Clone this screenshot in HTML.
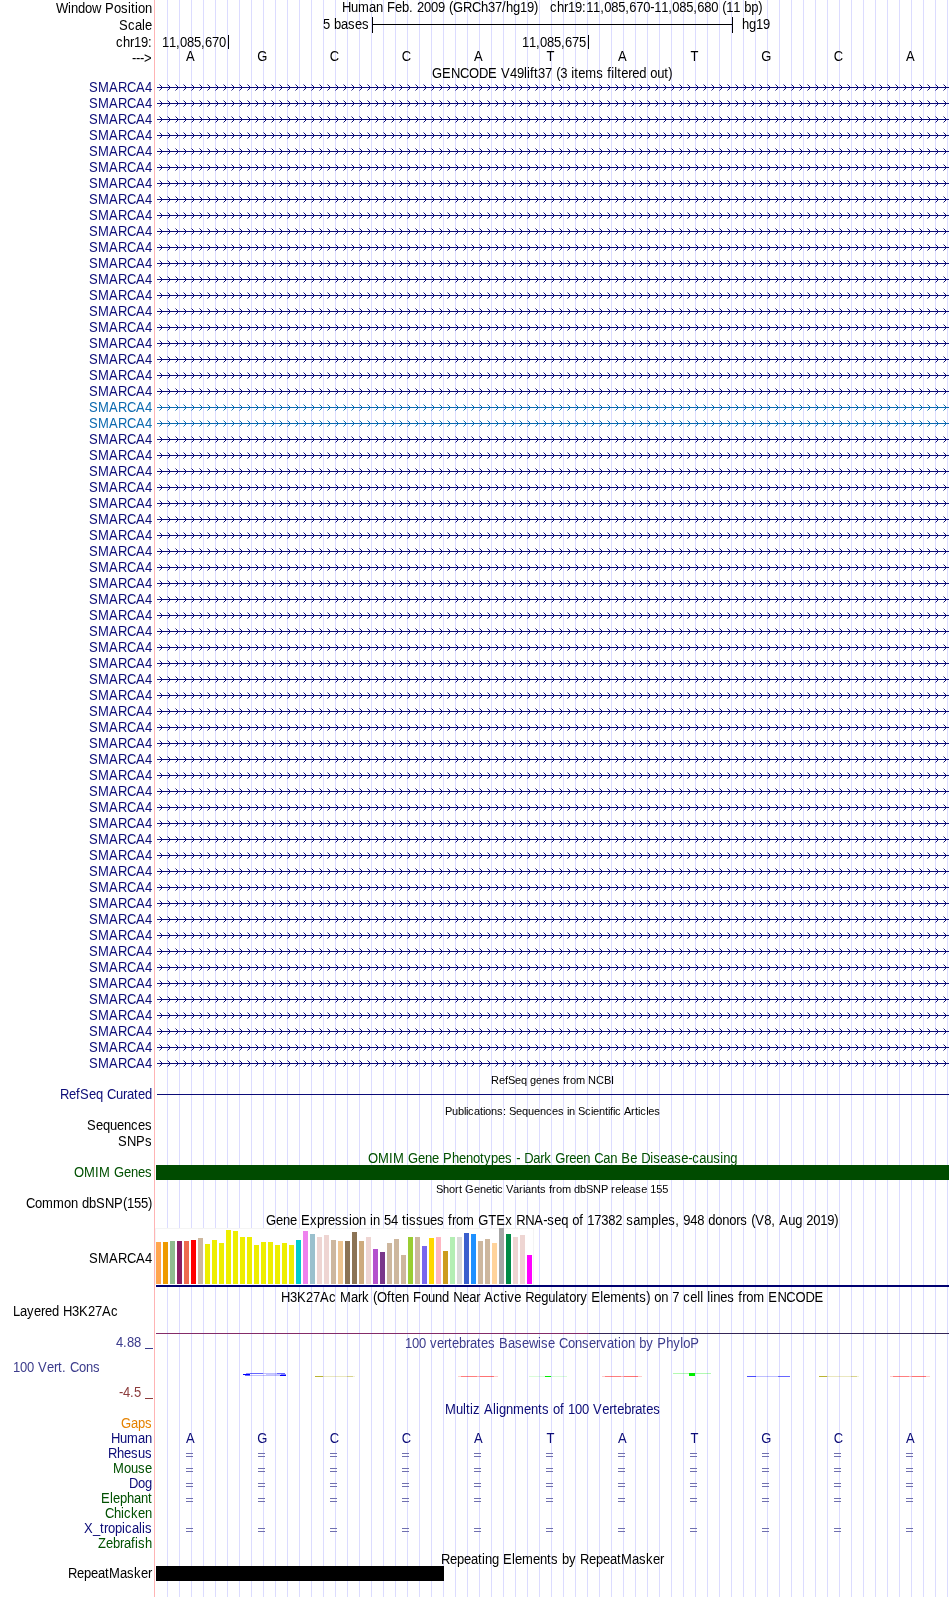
<!DOCTYPE html><html><head><meta charset="utf-8"><title>UCSC Genome Browser</title>
<style>
html,body{margin:0;padding:0;background:#fff;}
body{width:950px;height:1597px;position:relative;overflow:hidden;will-change:transform;-webkit-font-smoothing:antialiased;font-family:"Liberation Sans",sans-serif;font-size:13px;color:#000;}
.t{position:absolute;white-space:pre;font-kerning:none;font-variant-ligatures:none;line-height:16px;height:16px;transform:scaleY(1.08);transform-origin:0 12px;}
.s{font-size:11px;transform:none;}
.b{position:absolute;}
i{font-style:normal;}
.k0{letter-spacing:-0.27px}.k1{letter-spacing:0.11px}.k2{letter-spacing:-0.23px}.k3{letter-spacing:-0.39px}.k4{letter-spacing:0.39px}.k5{letter-spacing:0.33px}.k6{letter-spacing:0.50px}.k7{letter-spacing:-0.33px}.k8{letter-spacing:0.41px}.k9{letter-spacing:0.17px}.k10{letter-spacing:0.06px}.k11{letter-spacing:-0.11px}.k12{letter-spacing:-0.12px}.k13{letter-spacing:-0.06px}.k14{letter-spacing:-0.34px}.k15{letter-spacing:0.34px}.k16{letter-spacing:-0.16px}.k17{letter-spacing:-0.44px}.k18{letter-spacing:0.44px}
svg{position:absolute;left:0;top:0;}
</style></head><body>
<svg width="950" height="1597" viewBox="0 0 950 1597" shape-rendering="crispEdges"><path d="M167.5 0V1597M179.5 0V1597M191.5 0V1597M203.5 0V1597M215.5 0V1597M227.5 0V1597M239.5 0V1597M251.5 0V1597M263.5 0V1597M275.5 0V1597M287.5 0V1597M299.5 0V1597M311.5 0V1597M323.5 0V1597M335.5 0V1597M347.5 0V1597M359.5 0V1597M371.5 0V1597M383.5 0V1597M395.5 0V1597M407.5 0V1597M419.5 0V1597M431.5 0V1597M443.5 0V1597M455.5 0V1597M467.5 0V1597M479.5 0V1597M491.5 0V1597M503.5 0V1597M515.5 0V1597M527.5 0V1597M539.5 0V1597M551.5 0V1597M563.5 0V1597M575.5 0V1597M587.5 0V1597M599.5 0V1597M611.5 0V1597M623.5 0V1597M635.5 0V1597M647.5 0V1597M659.5 0V1597M671.5 0V1597M683.5 0V1597M695.5 0V1597M707.5 0V1597M719.5 0V1597M731.5 0V1597M743.5 0V1597M755.5 0V1597M767.5 0V1597M779.5 0V1597M791.5 0V1597M803.5 0V1597M815.5 0V1597M827.5 0V1597M839.5 0V1597M851.5 0V1597M863.5 0V1597M875.5 0V1597M887.5 0V1597M899.5 0V1597M911.5 0V1597M923.5 0V1597M935.5 0V1597M947.5 0V1597" stroke="#DCDCFF" stroke-width="1" fill="none"/><path d="M154.5 0V1597" stroke="#FFB4B4" stroke-width="1" fill="none"/><defs><g id="row"><path d="M157 0.5H949" stroke-width="1" fill="none"/><path d="M159.5 -2.5l3 3l-3 3M167.5 -2.5l3 3l-3 3M175.5 -2.5l3 3l-3 3M183.5 -2.5l3 3l-3 3M191.5 -2.5l3 3l-3 3M199.5 -2.5l3 3l-3 3M207.5 -2.5l3 3l-3 3M215.5 -2.5l3 3l-3 3M223.5 -2.5l3 3l-3 3M231.5 -2.5l3 3l-3 3M239.5 -2.5l3 3l-3 3M247.5 -2.5l3 3l-3 3M255.5 -2.5l3 3l-3 3M263.5 -2.5l3 3l-3 3M271.5 -2.5l3 3l-3 3M279.5 -2.5l3 3l-3 3M287.5 -2.5l3 3l-3 3M295.5 -2.5l3 3l-3 3M303.5 -2.5l3 3l-3 3M311.5 -2.5l3 3l-3 3M319.5 -2.5l3 3l-3 3M327.5 -2.5l3 3l-3 3M335.5 -2.5l3 3l-3 3M343.5 -2.5l3 3l-3 3M351.5 -2.5l3 3l-3 3M359.5 -2.5l3 3l-3 3M367.5 -2.5l3 3l-3 3M375.5 -2.5l3 3l-3 3M383.5 -2.5l3 3l-3 3M391.5 -2.5l3 3l-3 3M399.5 -2.5l3 3l-3 3M407.5 -2.5l3 3l-3 3M415.5 -2.5l3 3l-3 3M423.5 -2.5l3 3l-3 3M431.5 -2.5l3 3l-3 3M439.5 -2.5l3 3l-3 3M447.5 -2.5l3 3l-3 3M455.5 -2.5l3 3l-3 3M463.5 -2.5l3 3l-3 3M471.5 -2.5l3 3l-3 3M479.5 -2.5l3 3l-3 3M487.5 -2.5l3 3l-3 3M495.5 -2.5l3 3l-3 3M503.5 -2.5l3 3l-3 3M511.5 -2.5l3 3l-3 3M519.5 -2.5l3 3l-3 3M527.5 -2.5l3 3l-3 3M535.5 -2.5l3 3l-3 3M543.5 -2.5l3 3l-3 3M551.5 -2.5l3 3l-3 3M559.5 -2.5l3 3l-3 3M567.5 -2.5l3 3l-3 3M575.5 -2.5l3 3l-3 3M583.5 -2.5l3 3l-3 3M591.5 -2.5l3 3l-3 3M599.5 -2.5l3 3l-3 3M607.5 -2.5l3 3l-3 3M615.5 -2.5l3 3l-3 3M623.5 -2.5l3 3l-3 3M631.5 -2.5l3 3l-3 3M639.5 -2.5l3 3l-3 3M647.5 -2.5l3 3l-3 3M655.5 -2.5l3 3l-3 3M663.5 -2.5l3 3l-3 3M671.5 -2.5l3 3l-3 3M679.5 -2.5l3 3l-3 3M687.5 -2.5l3 3l-3 3M695.5 -2.5l3 3l-3 3M703.5 -2.5l3 3l-3 3M711.5 -2.5l3 3l-3 3M719.5 -2.5l3 3l-3 3M727.5 -2.5l3 3l-3 3M735.5 -2.5l3 3l-3 3M743.5 -2.5l3 3l-3 3M751.5 -2.5l3 3l-3 3M759.5 -2.5l3 3l-3 3M767.5 -2.5l3 3l-3 3M775.5 -2.5l3 3l-3 3M783.5 -2.5l3 3l-3 3M791.5 -2.5l3 3l-3 3M799.5 -2.5l3 3l-3 3M807.5 -2.5l3 3l-3 3M815.5 -2.5l3 3l-3 3M823.5 -2.5l3 3l-3 3M831.5 -2.5l3 3l-3 3M839.5 -2.5l3 3l-3 3M847.5 -2.5l3 3l-3 3M855.5 -2.5l3 3l-3 3M863.5 -2.5l3 3l-3 3M871.5 -2.5l3 3l-3 3M879.5 -2.5l3 3l-3 3M887.5 -2.5l3 3l-3 3M895.5 -2.5l3 3l-3 3M903.5 -2.5l3 3l-3 3M911.5 -2.5l3 3l-3 3M919.5 -2.5l3 3l-3 3M927.5 -2.5l3 3l-3 3M935.5 -2.5l3 3l-3 3M943.5 -2.5l3 3l-3 3" stroke-width="1" fill="none" shape-rendering="geometricPrecision"/></g></defs><use href="#row" y="87" stroke="#0C0C78"/><use href="#row" y="103" stroke="#0C0C78"/><use href="#row" y="119" stroke="#0C0C78"/><use href="#row" y="135" stroke="#0C0C78"/><use href="#row" y="151" stroke="#0C0C78"/><use href="#row" y="167" stroke="#0C0C78"/><use href="#row" y="183" stroke="#0C0C78"/><use href="#row" y="199" stroke="#0C0C78"/><use href="#row" y="215" stroke="#0C0C78"/><use href="#row" y="231" stroke="#0C0C78"/><use href="#row" y="247" stroke="#0C0C78"/><use href="#row" y="263" stroke="#0C0C78"/><use href="#row" y="279" stroke="#0C0C78"/><use href="#row" y="295" stroke="#0C0C78"/><use href="#row" y="311" stroke="#0C0C78"/><use href="#row" y="327" stroke="#0C0C78"/><use href="#row" y="343" stroke="#0C0C78"/><use href="#row" y="359" stroke="#0C0C78"/><use href="#row" y="375" stroke="#0C0C78"/><use href="#row" y="391" stroke="#0C0C78"/><use href="#row" y="407" stroke="#0C69B0"/><use href="#row" y="423" stroke="#0C69B0"/><use href="#row" y="439" stroke="#0C0C78"/><use href="#row" y="455" stroke="#0C0C78"/><use href="#row" y="471" stroke="#0C0C78"/><use href="#row" y="487" stroke="#0C0C78"/><use href="#row" y="503" stroke="#0C0C78"/><use href="#row" y="519" stroke="#0C0C78"/><use href="#row" y="535" stroke="#0C0C78"/><use href="#row" y="551" stroke="#0C0C78"/><use href="#row" y="567" stroke="#0C0C78"/><use href="#row" y="583" stroke="#0C0C78"/><use href="#row" y="599" stroke="#0C0C78"/><use href="#row" y="615" stroke="#0C0C78"/><use href="#row" y="631" stroke="#0C0C78"/><use href="#row" y="647" stroke="#0C0C78"/><use href="#row" y="663" stroke="#0C0C78"/><use href="#row" y="679" stroke="#0C0C78"/><use href="#row" y="695" stroke="#0C0C78"/><use href="#row" y="711" stroke="#0C0C78"/><use href="#row" y="727" stroke="#0C0C78"/><use href="#row" y="743" stroke="#0C0C78"/><use href="#row" y="759" stroke="#0C0C78"/><use href="#row" y="775" stroke="#0C0C78"/><use href="#row" y="791" stroke="#0C0C78"/><use href="#row" y="807" stroke="#0C0C78"/><use href="#row" y="823" stroke="#0C0C78"/><use href="#row" y="839" stroke="#0C0C78"/><use href="#row" y="855" stroke="#0C0C78"/><use href="#row" y="871" stroke="#0C0C78"/><use href="#row" y="887" stroke="#0C0C78"/><use href="#row" y="903" stroke="#0C0C78"/><use href="#row" y="919" stroke="#0C0C78"/><use href="#row" y="935" stroke="#0C0C78"/><use href="#row" y="951" stroke="#0C0C78"/><use href="#row" y="967" stroke="#0C0C78"/><use href="#row" y="983" stroke="#0C0C78"/><use href="#row" y="999" stroke="#0C0C78"/><use href="#row" y="1015" stroke="#0C0C78"/><use href="#row" y="1031" stroke="#0C0C78"/><use href="#row" y="1047" stroke="#0C0C78"/><use href="#row" y="1063" stroke="#0C0C78"/></svg>
<div class="t" style="left:56px;top:1px;"><i class=k0>W</i><i class=k1>i</i><i class=k2>ndo</i><i class=k3>w</i><i class=k4> </i><i class=k5>P</i><i class=k2>o</i><i class=k6>s</i><i class=k1>i</i><i class=k4>t</i><i class=k1>i</i><i class=k2>on</i></div>
<div class="t" style="left:119px;top:18px;"><i class=k5>S</i><i class=k6>c</i><i class=k2>a</i><i class=k1>l</i><i class=k2>e</i></div>
<div class="t" style="left:116px;top:35px;"><i class=k6>c</i><i class=k2>h</i><i class=k7>r</i><i class=k2>19</i><i class=k4>:</i></div>
<div class="t" style="left:132px;top:51px;"><i class=k7>---</i><i class=k8>&gt;</i></div>
<div class="t" style="left:342px;top:0px;"><i class=k3>H</i><i class=k2>u</i><i class=k9>m</i><i class=k2>an</i><i class=k4> </i><i class=k10>F</i><i class=k2>eb</i><i class=k4>. </i><i class=k2>2009</i><i class=k4> </i><i class=k7>(</i><i class=k11>G</i><i class=k3>RC</i><i class=k2>h37</i><i class=k4>/</i><i class=k2>hg19</i><i class=k7>)</i><i class=k4>   </i><i class=k6>c</i><i class=k2>h</i><i class=k7>r</i><i class=k2>19</i><i class=k4>:</i><i class=k2>11</i><i class=k4>,</i><i class=k2>085</i><i class=k4>,</i><i class=k2>670</i><i class=k7>-</i><i class=k2>11</i><i class=k4>,</i><i class=k2>085</i><i class=k4>,</i><i class=k2>680</i><i class=k4> </i><i class=k7>(</i><i class=k2>11</i><i class=k4> </i><i class=k2>bp</i><i class=k7>)</i></div>
<div class="t" style="left:323px;top:17px;"><i class=k2>5</i><i class=k4> </i><i class=k2>ba</i><i class=k6>s</i><i class=k2>e</i><i class=k6>s</i></div>
<div class="t" style="left:742px;top:17px;"><i class=k2>hg19</i></div>
<div class="b" style="left:372px;top:17px;width:1px;height:16px;background:#000"></div>
<div class="b" style="left:372px;top:24px;width:361px;height:1px;background:#000"></div>
<div class="b" style="left:732px;top:17px;width:1px;height:16px;background:#000"></div>
<div class="t" style="left:162px;top:35px;"><i class=k2>11</i><i class=k4>,</i><i class=k2>085</i><i class=k4>,</i><i class=k2>670</i></div>
<div class="b" style="left:228px;top:35px;width:1px;height:14px;background:#000"></div>
<div class="t" style="left:522px;top:35px;"><i class=k2>11</i><i class=k4>,</i><i class=k2>085</i><i class=k4>,</i><i class=k2>675</i></div>
<div class="b" style="left:588px;top:35px;width:1px;height:14px;background:#000"></div>
<div class="t" style="left:170.4px;width:40px;text-align:center;top:49px;">A</div>
<div class="t" style="left:242.39999999999998px;width:40px;text-align:center;top:49px;">G</div>
<div class="t" style="left:314.4px;width:40px;text-align:center;top:49px;">C</div>
<div class="t" style="left:386.4px;width:40px;text-align:center;top:49px;">C</div>
<div class="t" style="left:458.4px;width:40px;text-align:center;top:49px;">A</div>
<div class="t" style="left:530.4px;width:40px;text-align:center;top:49px;">T</div>
<div class="t" style="left:602.4px;width:40px;text-align:center;top:49px;">A</div>
<div class="t" style="left:674.4px;width:40px;text-align:center;top:49px;">T</div>
<div class="t" style="left:746.4px;width:40px;text-align:center;top:49px;">G</div>
<div class="t" style="left:818.4px;width:40px;text-align:center;top:49px;">C</div>
<div class="t" style="left:890.4px;width:40px;text-align:center;top:49px;">A</div>
<div class="t" style="left:432px;top:66px;"><i class=k11>G</i><i class=k5>E</i><i class=k3>NC</i><i class=k11>O</i><i class=k3>D</i><i class=k5>E</i><i class=k4> </i><i class=k5>V</i><i class=k2>49</i><i class=k1>li</i><i class=k4>ft</i><i class=k2>37</i><i class=k4> </i><i class=k7>(</i><i class=k2>3</i><i class=k4> </i><i class=k1>i</i><i class=k4>t</i><i class=k2>e</i><i class=k9>m</i><i class=k6>s</i><i class=k4> f</i><i class=k1>il</i><i class=k4>t</i><i class=k2>e</i><i class=k7>r</i><i class=k2>ed</i><i class=k4> </i><i class=k2>ou</i><i class=k4>t</i><i class=k7>)</i></div>
<div class="t" style="left:89px;top:80px;color:#0C0C78;"><i class=k5>S</i><i class=k9>M</i><i class=k5>A</i><i class=k3>RC</i><i class=k5>A</i><i class=k2>4</i></div>
<div class="t" style="left:89px;top:96px;color:#0C0C78;"><i class=k5>S</i><i class=k9>M</i><i class=k5>A</i><i class=k3>RC</i><i class=k5>A</i><i class=k2>4</i></div>
<div class="t" style="left:89px;top:112px;color:#0C0C78;"><i class=k5>S</i><i class=k9>M</i><i class=k5>A</i><i class=k3>RC</i><i class=k5>A</i><i class=k2>4</i></div>
<div class="t" style="left:89px;top:128px;color:#0C0C78;"><i class=k5>S</i><i class=k9>M</i><i class=k5>A</i><i class=k3>RC</i><i class=k5>A</i><i class=k2>4</i></div>
<div class="t" style="left:89px;top:144px;color:#0C0C78;"><i class=k5>S</i><i class=k9>M</i><i class=k5>A</i><i class=k3>RC</i><i class=k5>A</i><i class=k2>4</i></div>
<div class="t" style="left:89px;top:160px;color:#0C0C78;"><i class=k5>S</i><i class=k9>M</i><i class=k5>A</i><i class=k3>RC</i><i class=k5>A</i><i class=k2>4</i></div>
<div class="t" style="left:89px;top:176px;color:#0C0C78;"><i class=k5>S</i><i class=k9>M</i><i class=k5>A</i><i class=k3>RC</i><i class=k5>A</i><i class=k2>4</i></div>
<div class="t" style="left:89px;top:192px;color:#0C0C78;"><i class=k5>S</i><i class=k9>M</i><i class=k5>A</i><i class=k3>RC</i><i class=k5>A</i><i class=k2>4</i></div>
<div class="t" style="left:89px;top:208px;color:#0C0C78;"><i class=k5>S</i><i class=k9>M</i><i class=k5>A</i><i class=k3>RC</i><i class=k5>A</i><i class=k2>4</i></div>
<div class="t" style="left:89px;top:224px;color:#0C0C78;"><i class=k5>S</i><i class=k9>M</i><i class=k5>A</i><i class=k3>RC</i><i class=k5>A</i><i class=k2>4</i></div>
<div class="t" style="left:89px;top:240px;color:#0C0C78;"><i class=k5>S</i><i class=k9>M</i><i class=k5>A</i><i class=k3>RC</i><i class=k5>A</i><i class=k2>4</i></div>
<div class="t" style="left:89px;top:256px;color:#0C0C78;"><i class=k5>S</i><i class=k9>M</i><i class=k5>A</i><i class=k3>RC</i><i class=k5>A</i><i class=k2>4</i></div>
<div class="t" style="left:89px;top:272px;color:#0C0C78;"><i class=k5>S</i><i class=k9>M</i><i class=k5>A</i><i class=k3>RC</i><i class=k5>A</i><i class=k2>4</i></div>
<div class="t" style="left:89px;top:288px;color:#0C0C78;"><i class=k5>S</i><i class=k9>M</i><i class=k5>A</i><i class=k3>RC</i><i class=k5>A</i><i class=k2>4</i></div>
<div class="t" style="left:89px;top:304px;color:#0C0C78;"><i class=k5>S</i><i class=k9>M</i><i class=k5>A</i><i class=k3>RC</i><i class=k5>A</i><i class=k2>4</i></div>
<div class="t" style="left:89px;top:320px;color:#0C0C78;"><i class=k5>S</i><i class=k9>M</i><i class=k5>A</i><i class=k3>RC</i><i class=k5>A</i><i class=k2>4</i></div>
<div class="t" style="left:89px;top:336px;color:#0C0C78;"><i class=k5>S</i><i class=k9>M</i><i class=k5>A</i><i class=k3>RC</i><i class=k5>A</i><i class=k2>4</i></div>
<div class="t" style="left:89px;top:352px;color:#0C0C78;"><i class=k5>S</i><i class=k9>M</i><i class=k5>A</i><i class=k3>RC</i><i class=k5>A</i><i class=k2>4</i></div>
<div class="t" style="left:89px;top:368px;color:#0C0C78;"><i class=k5>S</i><i class=k9>M</i><i class=k5>A</i><i class=k3>RC</i><i class=k5>A</i><i class=k2>4</i></div>
<div class="t" style="left:89px;top:384px;color:#0C0C78;"><i class=k5>S</i><i class=k9>M</i><i class=k5>A</i><i class=k3>RC</i><i class=k5>A</i><i class=k2>4</i></div>
<div class="t" style="left:89px;top:400px;color:#0C69B0;"><i class=k5>S</i><i class=k9>M</i><i class=k5>A</i><i class=k3>RC</i><i class=k5>A</i><i class=k2>4</i></div>
<div class="t" style="left:89px;top:416px;color:#0C69B0;"><i class=k5>S</i><i class=k9>M</i><i class=k5>A</i><i class=k3>RC</i><i class=k5>A</i><i class=k2>4</i></div>
<div class="t" style="left:89px;top:432px;color:#0C0C78;"><i class=k5>S</i><i class=k9>M</i><i class=k5>A</i><i class=k3>RC</i><i class=k5>A</i><i class=k2>4</i></div>
<div class="t" style="left:89px;top:448px;color:#0C0C78;"><i class=k5>S</i><i class=k9>M</i><i class=k5>A</i><i class=k3>RC</i><i class=k5>A</i><i class=k2>4</i></div>
<div class="t" style="left:89px;top:464px;color:#0C0C78;"><i class=k5>S</i><i class=k9>M</i><i class=k5>A</i><i class=k3>RC</i><i class=k5>A</i><i class=k2>4</i></div>
<div class="t" style="left:89px;top:480px;color:#0C0C78;"><i class=k5>S</i><i class=k9>M</i><i class=k5>A</i><i class=k3>RC</i><i class=k5>A</i><i class=k2>4</i></div>
<div class="t" style="left:89px;top:496px;color:#0C0C78;"><i class=k5>S</i><i class=k9>M</i><i class=k5>A</i><i class=k3>RC</i><i class=k5>A</i><i class=k2>4</i></div>
<div class="t" style="left:89px;top:512px;color:#0C0C78;"><i class=k5>S</i><i class=k9>M</i><i class=k5>A</i><i class=k3>RC</i><i class=k5>A</i><i class=k2>4</i></div>
<div class="t" style="left:89px;top:528px;color:#0C0C78;"><i class=k5>S</i><i class=k9>M</i><i class=k5>A</i><i class=k3>RC</i><i class=k5>A</i><i class=k2>4</i></div>
<div class="t" style="left:89px;top:544px;color:#0C0C78;"><i class=k5>S</i><i class=k9>M</i><i class=k5>A</i><i class=k3>RC</i><i class=k5>A</i><i class=k2>4</i></div>
<div class="t" style="left:89px;top:560px;color:#0C0C78;"><i class=k5>S</i><i class=k9>M</i><i class=k5>A</i><i class=k3>RC</i><i class=k5>A</i><i class=k2>4</i></div>
<div class="t" style="left:89px;top:576px;color:#0C0C78;"><i class=k5>S</i><i class=k9>M</i><i class=k5>A</i><i class=k3>RC</i><i class=k5>A</i><i class=k2>4</i></div>
<div class="t" style="left:89px;top:592px;color:#0C0C78;"><i class=k5>S</i><i class=k9>M</i><i class=k5>A</i><i class=k3>RC</i><i class=k5>A</i><i class=k2>4</i></div>
<div class="t" style="left:89px;top:608px;color:#0C0C78;"><i class=k5>S</i><i class=k9>M</i><i class=k5>A</i><i class=k3>RC</i><i class=k5>A</i><i class=k2>4</i></div>
<div class="t" style="left:89px;top:624px;color:#0C0C78;"><i class=k5>S</i><i class=k9>M</i><i class=k5>A</i><i class=k3>RC</i><i class=k5>A</i><i class=k2>4</i></div>
<div class="t" style="left:89px;top:640px;color:#0C0C78;"><i class=k5>S</i><i class=k9>M</i><i class=k5>A</i><i class=k3>RC</i><i class=k5>A</i><i class=k2>4</i></div>
<div class="t" style="left:89px;top:656px;color:#0C0C78;"><i class=k5>S</i><i class=k9>M</i><i class=k5>A</i><i class=k3>RC</i><i class=k5>A</i><i class=k2>4</i></div>
<div class="t" style="left:89px;top:672px;color:#0C0C78;"><i class=k5>S</i><i class=k9>M</i><i class=k5>A</i><i class=k3>RC</i><i class=k5>A</i><i class=k2>4</i></div>
<div class="t" style="left:89px;top:688px;color:#0C0C78;"><i class=k5>S</i><i class=k9>M</i><i class=k5>A</i><i class=k3>RC</i><i class=k5>A</i><i class=k2>4</i></div>
<div class="t" style="left:89px;top:704px;color:#0C0C78;"><i class=k5>S</i><i class=k9>M</i><i class=k5>A</i><i class=k3>RC</i><i class=k5>A</i><i class=k2>4</i></div>
<div class="t" style="left:89px;top:720px;color:#0C0C78;"><i class=k5>S</i><i class=k9>M</i><i class=k5>A</i><i class=k3>RC</i><i class=k5>A</i><i class=k2>4</i></div>
<div class="t" style="left:89px;top:736px;color:#0C0C78;"><i class=k5>S</i><i class=k9>M</i><i class=k5>A</i><i class=k3>RC</i><i class=k5>A</i><i class=k2>4</i></div>
<div class="t" style="left:89px;top:752px;color:#0C0C78;"><i class=k5>S</i><i class=k9>M</i><i class=k5>A</i><i class=k3>RC</i><i class=k5>A</i><i class=k2>4</i></div>
<div class="t" style="left:89px;top:768px;color:#0C0C78;"><i class=k5>S</i><i class=k9>M</i><i class=k5>A</i><i class=k3>RC</i><i class=k5>A</i><i class=k2>4</i></div>
<div class="t" style="left:89px;top:784px;color:#0C0C78;"><i class=k5>S</i><i class=k9>M</i><i class=k5>A</i><i class=k3>RC</i><i class=k5>A</i><i class=k2>4</i></div>
<div class="t" style="left:89px;top:800px;color:#0C0C78;"><i class=k5>S</i><i class=k9>M</i><i class=k5>A</i><i class=k3>RC</i><i class=k5>A</i><i class=k2>4</i></div>
<div class="t" style="left:89px;top:816px;color:#0C0C78;"><i class=k5>S</i><i class=k9>M</i><i class=k5>A</i><i class=k3>RC</i><i class=k5>A</i><i class=k2>4</i></div>
<div class="t" style="left:89px;top:832px;color:#0C0C78;"><i class=k5>S</i><i class=k9>M</i><i class=k5>A</i><i class=k3>RC</i><i class=k5>A</i><i class=k2>4</i></div>
<div class="t" style="left:89px;top:848px;color:#0C0C78;"><i class=k5>S</i><i class=k9>M</i><i class=k5>A</i><i class=k3>RC</i><i class=k5>A</i><i class=k2>4</i></div>
<div class="t" style="left:89px;top:864px;color:#0C0C78;"><i class=k5>S</i><i class=k9>M</i><i class=k5>A</i><i class=k3>RC</i><i class=k5>A</i><i class=k2>4</i></div>
<div class="t" style="left:89px;top:880px;color:#0C0C78;"><i class=k5>S</i><i class=k9>M</i><i class=k5>A</i><i class=k3>RC</i><i class=k5>A</i><i class=k2>4</i></div>
<div class="t" style="left:89px;top:896px;color:#0C0C78;"><i class=k5>S</i><i class=k9>M</i><i class=k5>A</i><i class=k3>RC</i><i class=k5>A</i><i class=k2>4</i></div>
<div class="t" style="left:89px;top:912px;color:#0C0C78;"><i class=k5>S</i><i class=k9>M</i><i class=k5>A</i><i class=k3>RC</i><i class=k5>A</i><i class=k2>4</i></div>
<div class="t" style="left:89px;top:928px;color:#0C0C78;"><i class=k5>S</i><i class=k9>M</i><i class=k5>A</i><i class=k3>RC</i><i class=k5>A</i><i class=k2>4</i></div>
<div class="t" style="left:89px;top:944px;color:#0C0C78;"><i class=k5>S</i><i class=k9>M</i><i class=k5>A</i><i class=k3>RC</i><i class=k5>A</i><i class=k2>4</i></div>
<div class="t" style="left:89px;top:960px;color:#0C0C78;"><i class=k5>S</i><i class=k9>M</i><i class=k5>A</i><i class=k3>RC</i><i class=k5>A</i><i class=k2>4</i></div>
<div class="t" style="left:89px;top:976px;color:#0C0C78;"><i class=k5>S</i><i class=k9>M</i><i class=k5>A</i><i class=k3>RC</i><i class=k5>A</i><i class=k2>4</i></div>
<div class="t" style="left:89px;top:992px;color:#0C0C78;"><i class=k5>S</i><i class=k9>M</i><i class=k5>A</i><i class=k3>RC</i><i class=k5>A</i><i class=k2>4</i></div>
<div class="t" style="left:89px;top:1008px;color:#0C0C78;"><i class=k5>S</i><i class=k9>M</i><i class=k5>A</i><i class=k3>RC</i><i class=k5>A</i><i class=k2>4</i></div>
<div class="t" style="left:89px;top:1024px;color:#0C0C78;"><i class=k5>S</i><i class=k9>M</i><i class=k5>A</i><i class=k3>RC</i><i class=k5>A</i><i class=k2>4</i></div>
<div class="t" style="left:89px;top:1040px;color:#0C0C78;"><i class=k5>S</i><i class=k9>M</i><i class=k5>A</i><i class=k3>RC</i><i class=k5>A</i><i class=k2>4</i></div>
<div class="t" style="left:89px;top:1056px;color:#0C0C78;"><i class=k5>S</i><i class=k9>M</i><i class=k5>A</i><i class=k3>RC</i><i class=k5>A</i><i class=k2>4</i></div>
<div class="t s" style="left:491px;top:1072px;"><i class=k10>R</i><i class=k12>e</i><i class=k13>f</i><i class=k14>S</i><i class=k12>eq</i><i class=k13> </i><i class=k12>gene</i><i class=k6>s</i><i class=k13> f</i><i class=k15>r</i><i class=k12>o</i><i class=k16>m</i><i class=k13> </i><i class=k10>NC</i><i class=k14>B</i><i class=k13>I</i></div>
<div class="t" style="left:60px;top:1087px;color:#0C0C78;"><i class=k3>R</i><i class=k2>e</i><i class=k4>f</i><i class=k5>S</i><i class=k2>eq</i><i class=k4> </i><i class=k3>C</i><i class=k2>u</i><i class=k7>r</i><i class=k2>a</i><i class=k4>t</i><i class=k2>ed</i></div>
<div class="b" style="left:157px;top:1094px;width:792px;height:1px;background:#0C0C78"></div>
<div class="t s" style="left:445px;top:1103px;"><i class=k14>P</i><i class=k12>ub</i><i class=k17>li</i><i class=k6>c</i><i class=k12>a</i><i class=k13>t</i><i class=k17>i</i><i class=k12>on</i><i class=k6>s</i><i class=k13>: </i><i class=k14>S</i><i class=k12>equen</i><i class=k6>c</i><i class=k12>e</i><i class=k6>s</i><i class=k13> </i><i class=k17>i</i><i class=k12>n</i><i class=k13> </i><i class=k14>S</i><i class=k6>c</i><i class=k17>i</i><i class=k12>en</i><i class=k13>t</i><i class=k17>i</i><i class=k13>f</i><i class=k17>i</i><i class=k6>c</i><i class=k13> </i><i class=k14>A</i><i class=k15>r</i><i class=k13>t</i><i class=k17>i</i><i class=k6>c</i><i class=k17>l</i><i class=k12>e</i><i class=k6>s</i></div>
<div class="t" style="left:87px;top:1118px;"><i class=k5>S</i><i class=k2>equen</i><i class=k6>c</i><i class=k2>e</i><i class=k6>s</i></div>
<div class="t" style="left:118px;top:1134px;"><i class=k5>S</i><i class=k3>N</i><i class=k5>P</i><i class=k6>s</i></div>
<div class="t" style="left:368px;top:1151px;color:#005000;"><i class=k11>O</i><i class=k9>M</i><i class=k4>I</i><i class=k9>M</i><i class=k4> </i><i class=k11>G</i><i class=k2>ene</i><i class=k4> </i><i class=k5>P</i><i class=k2>heno</i><i class=k4>t</i><i class=k6>y</i><i class=k2>pe</i><i class=k6>s</i><i class=k4> </i><i class=k7>-</i><i class=k4> </i><i class=k3>D</i><i class=k2>a</i><i class=k7>r</i><i class=k6>k</i><i class=k4> </i><i class=k11>G</i><i class=k7>r</i><i class=k2>een</i><i class=k4> </i><i class=k3>C</i><i class=k2>an</i><i class=k4> </i><i class=k5>B</i><i class=k2>e</i><i class=k4> </i><i class=k3>D</i><i class=k1>i</i><i class=k6>s</i><i class=k2>ea</i><i class=k6>s</i><i class=k2>e</i><i class=k7>-</i><i class=k6>c</i><i class=k2>au</i><i class=k6>s</i><i class=k1>i</i><i class=k2>ng</i></div>
<div class="t" style="left:74px;top:1165px;color:#005000;"><i class=k11>O</i><i class=k9>M</i><i class=k4>I</i><i class=k9>M</i><i class=k4> </i><i class=k11>G</i><i class=k2>ene</i><i class=k6>s</i></div>
<div class="b" style="left:156px;top:1165px;width:793px;height:15px;background:#004B00"></div>
<div class="t s" style="left:436px;top:1181px;"><i class=k14>S</i><i class=k12>ho</i><i class=k15>r</i><i class=k13>t </i><i class=k18>G</i><i class=k12>ene</i><i class=k13>t</i><i class=k17>i</i><i class=k6>c</i><i class=k13> </i><i class=k14>V</i><i class=k12>a</i><i class=k15>r</i><i class=k17>i</i><i class=k12>an</i><i class=k13>t</i><i class=k6>s</i><i class=k13> f</i><i class=k15>r</i><i class=k12>o</i><i class=k16>m</i><i class=k13> </i><i class=k12>db</i><i class=k14>S</i><i class=k10>N</i><i class=k14>P</i><i class=k13> </i><i class=k15>r</i><i class=k12>e</i><i class=k17>l</i><i class=k12>ea</i><i class=k6>s</i><i class=k12>e</i><i class=k13> </i><i class=k12>155</i></div>
<div class="t" style="left:26px;top:1196px;"><i class=k3>C</i><i class=k2>o</i><i class=k9>mm</i><i class=k2>on</i><i class=k4> </i><i class=k2>db</i><i class=k5>S</i><i class=k3>N</i><i class=k5>P</i><i class=k7>(</i><i class=k2>155</i><i class=k7>)</i></div>
<div class="t" style="left:266px;top:1213px;"><i class=k11>G</i><i class=k2>ene</i><i class=k4> </i><i class=k5>E</i><i class=k6>x</i><i class=k2>p</i><i class=k7>r</i><i class=k2>e</i><i class=k6>ss</i><i class=k1>i</i><i class=k2>on</i><i class=k4> </i><i class=k1>i</i><i class=k2>n</i><i class=k4> </i><i class=k2>54</i><i class=k4> t</i><i class=k1>i</i><i class=k6>ss</i><i class=k2>ue</i><i class=k6>s</i><i class=k4> f</i><i class=k7>r</i><i class=k2>o</i><i class=k9>m</i><i class=k4> </i><i class=k11>G</i><i class=k10>T</i><i class=k5>E</i><i class=k6>x</i><i class=k4> </i><i class=k3>RN</i><i class=k5>A</i><i class=k7>-</i><i class=k6>s</i><i class=k2>eq</i><i class=k4> </i><i class=k2>o</i><i class=k4>f </i><i class=k2>17382</i><i class=k4> </i><i class=k6>s</i><i class=k2>a</i><i class=k9>m</i><i class=k2>p</i><i class=k1>l</i><i class=k2>e</i><i class=k6>s</i><i class=k4>, </i><i class=k2>948</i><i class=k4> </i><i class=k2>dono</i><i class=k7>r</i><i class=k6>s</i><i class=k4> </i><i class=k7>(</i><i class=k5>V</i><i class=k2>8</i><i class=k4>, </i><i class=k5>A</i><i class=k2>ug</i><i class=k4> </i><i class=k2>2019</i><i class=k7>)</i></div>
<div class="t" style="left:89px;top:1251px;"><i class=k5>S</i><i class=k9>M</i><i class=k5>A</i><i class=k3>RC</i><i class=k5>A</i><i class=k2>4</i></div>
<div class="b" style="left:155px;top:1228px;width:379px;height:57px;background:#fff;border:1px solid #F4F4F4;border-bottom:none;box-sizing:border-box"></div>
<div class="b" style="left:156px;top:1242px;width:5px;height:42px;background:#FFA54F"></div>
<div class="b" style="left:163px;top:1242px;width:5px;height:42px;background:#EE9A00"></div>
<div class="b" style="left:170px;top:1241px;width:5px;height:43px;background:#8FBC8F"></div>
<div class="b" style="left:177px;top:1241px;width:5px;height:43px;background:#8B1C62"></div>
<div class="b" style="left:184px;top:1241px;width:5px;height:43px;background:#EE6A50"></div>
<div class="b" style="left:191px;top:1240px;width:5px;height:44px;background:#FF0000"></div>
<div class="b" style="left:198px;top:1238px;width:5px;height:46px;background:#CDB79E"></div>
<div class="b" style="left:205px;top:1244px;width:5px;height:40px;background:#EEEE00"></div>
<div class="b" style="left:212px;top:1240px;width:5px;height:44px;background:#EEEE00"></div>
<div class="b" style="left:219px;top:1243px;width:5px;height:41px;background:#EEEE00"></div>
<div class="b" style="left:226px;top:1230px;width:5px;height:54px;background:#EEEE00"></div>
<div class="b" style="left:233px;top:1231px;width:5px;height:53px;background:#EEEE00"></div>
<div class="b" style="left:240px;top:1237px;width:5px;height:47px;background:#EEEE00"></div>
<div class="b" style="left:247px;top:1237px;width:5px;height:47px;background:#EEEE00"></div>
<div class="b" style="left:254px;top:1245px;width:5px;height:39px;background:#EEEE00"></div>
<div class="b" style="left:261px;top:1242px;width:5px;height:42px;background:#EEEE00"></div>
<div class="b" style="left:268px;top:1242px;width:5px;height:42px;background:#EEEE00"></div>
<div class="b" style="left:275px;top:1245px;width:5px;height:39px;background:#EEEE00"></div>
<div class="b" style="left:282px;top:1243px;width:5px;height:41px;background:#EEEE00"></div>
<div class="b" style="left:289px;top:1245px;width:5px;height:39px;background:#EEEE00"></div>
<div class="b" style="left:296px;top:1240px;width:5px;height:44px;background:#00CDCD"></div>
<div class="b" style="left:303px;top:1231px;width:5px;height:53px;background:#EE82EE"></div>
<div class="b" style="left:310px;top:1234px;width:5px;height:50px;background:#9AC0CD"></div>
<div class="b" style="left:317px;top:1237px;width:5px;height:47px;background:#EED5D2"></div>
<div class="b" style="left:324px;top:1235px;width:5px;height:49px;background:#EED5D2"></div>
<div class="b" style="left:331px;top:1240px;width:5px;height:44px;background:#CDB79E"></div>
<div class="b" style="left:338px;top:1241px;width:5px;height:43px;background:#EEC591"></div>
<div class="b" style="left:345px;top:1241px;width:5px;height:43px;background:#8B7355"></div>
<div class="b" style="left:352px;top:1232px;width:5px;height:52px;background:#8B7355"></div>
<div class="b" style="left:359px;top:1241px;width:5px;height:43px;background:#CDAA7D"></div>
<div class="b" style="left:366px;top:1237px;width:5px;height:47px;background:#EED5D2"></div>
<div class="b" style="left:373px;top:1249px;width:5px;height:35px;background:#B452CD"></div>
<div class="b" style="left:380px;top:1252px;width:5px;height:32px;background:#7A378B"></div>
<div class="b" style="left:387px;top:1243px;width:5px;height:41px;background:#CDB79E"></div>
<div class="b" style="left:394px;top:1239px;width:5px;height:45px;background:#CDB79E"></div>
<div class="b" style="left:401px;top:1255px;width:5px;height:29px;background:#CDB79E"></div>
<div class="b" style="left:408px;top:1237px;width:5px;height:47px;background:#9ACD32"></div>
<div class="b" style="left:415px;top:1237px;width:5px;height:47px;background:#CDB79E"></div>
<div class="b" style="left:422px;top:1246px;width:5px;height:38px;background:#7A67EE"></div>
<div class="b" style="left:429px;top:1238px;width:5px;height:46px;background:#FFD700"></div>
<div class="b" style="left:436px;top:1237px;width:5px;height:47px;background:#FFB6C1"></div>
<div class="b" style="left:443px;top:1251px;width:5px;height:33px;background:#CD9B1D"></div>
<div class="b" style="left:450px;top:1237px;width:5px;height:47px;background:#B4EEB4"></div>
<div class="b" style="left:457px;top:1237px;width:5px;height:47px;background:#D9D9D9"></div>
<div class="b" style="left:464px;top:1233px;width:5px;height:51px;background:#3A5FCD"></div>
<div class="b" style="left:471px;top:1234px;width:5px;height:50px;background:#1E90FF"></div>
<div class="b" style="left:478px;top:1241px;width:5px;height:43px;background:#CDB79E"></div>
<div class="b" style="left:485px;top:1239px;width:5px;height:45px;background:#CDB79E"></div>
<div class="b" style="left:492px;top:1243px;width:5px;height:41px;background:#FFD39B"></div>
<div class="b" style="left:499px;top:1228px;width:5px;height:56px;background:#A6A6A6"></div>
<div class="b" style="left:506px;top:1234px;width:5px;height:50px;background:#008B45"></div>
<div class="b" style="left:513px;top:1237px;width:5px;height:47px;background:#EED5D2"></div>
<div class="b" style="left:520px;top:1235px;width:5px;height:49px;background:#EED5D2"></div>
<div class="b" style="left:527px;top:1255px;width:5px;height:29px;background:#FF00FF"></div>
<div class="b" style="left:156px;top:1285px;width:793px;height:2px;background:#000070"></div>
<div class="t" style="left:281px;top:1290px;"><i class=k3>H</i><i class=k2>3</i><i class=k5>K</i><i class=k2>27</i><i class=k5>A</i><i class=k6>c</i><i class=k4> </i><i class=k9>M</i><i class=k2>a</i><i class=k7>r</i><i class=k6>k</i><i class=k4> </i><i class=k7>(</i><i class=k11>O</i><i class=k4>ft</i><i class=k2>en</i><i class=k4> </i><i class=k10>F</i><i class=k2>ound</i><i class=k4> </i><i class=k3>N</i><i class=k2>ea</i><i class=k7>r</i><i class=k4> </i><i class=k5>A</i><i class=k6>c</i><i class=k4>t</i><i class=k1>i</i><i class=k6>v</i><i class=k2>e</i><i class=k4> </i><i class=k3>R</i><i class=k2>egu</i><i class=k1>l</i><i class=k2>a</i><i class=k4>t</i><i class=k2>o</i><i class=k7>r</i><i class=k6>y</i><i class=k4> </i><i class=k5>E</i><i class=k1>l</i><i class=k2>e</i><i class=k9>m</i><i class=k2>en</i><i class=k4>t</i><i class=k6>s</i><i class=k7>)</i><i class=k4> </i><i class=k2>on</i><i class=k4> </i><i class=k2>7</i><i class=k4> </i><i class=k6>c</i><i class=k2>e</i><i class=k1>ll</i><i class=k4> </i><i class=k1>li</i><i class=k2>ne</i><i class=k6>s</i><i class=k4> f</i><i class=k7>r</i><i class=k2>o</i><i class=k9>m</i><i class=k4> </i><i class=k5>E</i><i class=k3>NC</i><i class=k11>O</i><i class=k3>D</i><i class=k5>E</i></div>
<div class="t" style="left:13px;top:1304px;"><i class=k2>La</i><i class=k6>y</i><i class=k2>e</i><i class=k7>r</i><i class=k2>ed</i><i class=k4> </i><i class=k3>H</i><i class=k2>3</i><i class=k5>K</i><i class=k2>27</i><i class=k5>A</i><i class=k6>c</i></div>
<div class="b" style="left:156px;top:1333px;width:433px;height:1px;background:#842C68"></div>
<div class="b" style="left:589px;top:1333px;width:360px;height:1px;background:#352757"></div>
<div class="t" style="left:116px;top:1335px;color:#3C3C8C;"><i class=k2>4</i><i class=k4>.</i><i class=k2>88</i></div>
<div class="b" style="left:145px;top:1348px;width:8px;height:1px;background:#3C3C8C"></div>
<div class="t" style="left:405px;top:1336px;color:#3C3C8C;"><i class=k2>100</i><i class=k4> </i><i class=k6>v</i><i class=k2>e</i><i class=k7>r</i><i class=k4>t</i><i class=k2>eb</i><i class=k7>r</i><i class=k2>a</i><i class=k4>t</i><i class=k2>e</i><i class=k6>s</i><i class=k4> </i><i class=k5>B</i><i class=k2>a</i><i class=k6>s</i><i class=k2>e</i><i class=k3>w</i><i class=k1>i</i><i class=k6>s</i><i class=k2>e</i><i class=k4> </i><i class=k3>C</i><i class=k2>on</i><i class=k6>s</i><i class=k2>e</i><i class=k7>r</i><i class=k6>v</i><i class=k2>a</i><i class=k4>t</i><i class=k1>i</i><i class=k2>on</i><i class=k4> </i><i class=k2>b</i><i class=k6>y</i><i class=k4> </i><i class=k5>P</i><i class=k2>h</i><i class=k6>y</i><i class=k1>l</i><i class=k2>o</i><i class=k5>P</i></div>
<div class="t" style="left:13px;top:1360px;color:#3C3C8C;"><i class=k2>100</i><i class=k4> </i><i class=k5>V</i><i class=k2>e</i><i class=k7>r</i><i class=k4>t. </i><i class=k3>C</i><i class=k2>on</i><i class=k6>s</i></div>
<div class="t" style="left:119px;top:1385px;color:#8C3C3C;"><i class=k7>-</i><i class=k2>4</i><i class=k4>.</i><i class=k2>5</i></div>
<div class="b" style="left:145px;top:1398px;width:8px;height:1px;background:#8C3C3C"></div>
<div class="b" style="left:246px;top:1373px;width:4px;height:1px;background:rgba(0,0,255,0.45)"></div>
<div class="b" style="left:250px;top:1373px;width:13px;height:1px;background:rgba(0,0,255,0.6)"></div>
<div class="b" style="left:263px;top:1373px;width:14px;height:1px;background:rgba(0,0,255,0.25)"></div>
<div class="b" style="left:277px;top:1373px;width:8px;height:1px;background:rgba(0,0,255,0.6)"></div>
<div class="b" style="left:243px;top:1374px;width:7px;height:1px;background:rgba(0,0,255,1)"></div>
<div class="b" style="left:266px;top:1374px;width:15px;height:1px;background:rgba(0,0,255,0.2)"></div>
<div class="b" style="left:281px;top:1374px;width:5px;height:1px;background:rgba(0,0,255,0.5)"></div>
<div class="b" style="left:245px;top:1375px;width:5px;height:1px;background:rgba(0,0,255,0.6)"></div>
<div class="b" style="left:250px;top:1375px;width:30px;height:1px;background:rgba(0,0,255,0.25)"></div>
<div class="b" style="left:280px;top:1375px;width:6px;height:1px;background:rgba(0,0,255,1)"></div>
<div class="b" style="left:315px;top:1376px;width:8px;height:1px;background:rgba(170,160,0,0.8)"></div>
<div class="b" style="left:323px;top:1376px;width:24px;height:1px;background:rgba(170,160,0,0.25)"></div>
<div class="b" style="left:347px;top:1376px;width:6px;height:1px;background:rgba(170,160,0,0.45)"></div>
<div class="b" style="left:353px;top:1376px;width:2px;height:1px;background:rgba(170,160,0,0.15)"></div>
<div class="b" style="left:458px;top:1376px;width:3px;height:1px;background:rgba(255,0,0,0.2)"></div>
<div class="b" style="left:461px;top:1376px;width:16px;height:1px;background:rgba(255,0,0,0.5)"></div>
<div class="b" style="left:477px;top:1376px;width:3px;height:1px;background:rgba(255,0,0,0.3)"></div>
<div class="b" style="left:480px;top:1376px;width:14px;height:1px;background:rgba(255,0,0,0.55)"></div>
<div class="b" style="left:494px;top:1376px;width:4px;height:1px;background:rgba(255,0,0,0.2)"></div>
<div class="b" style="left:529px;top:1376px;width:38px;height:1px;background:rgba(0,238,0,0.15)"></div>
<div class="b" style="left:545px;top:1376px;width:6px;height:1px;background:rgba(0,238,0,1)"></div>
<div class="b" style="left:602px;top:1376px;width:3px;height:1px;background:rgba(255,0,0,0.2)"></div>
<div class="b" style="left:605px;top:1376px;width:16px;height:1px;background:rgba(255,0,0,0.5)"></div>
<div class="b" style="left:621px;top:1376px;width:3px;height:1px;background:rgba(255,0,0,0.3)"></div>
<div class="b" style="left:624px;top:1376px;width:14px;height:1px;background:rgba(255,0,0,0.55)"></div>
<div class="b" style="left:638px;top:1376px;width:4px;height:1px;background:rgba(255,0,0,0.2)"></div>
<div class="b" style="left:673px;top:1373px;width:38px;height:1px;background:rgba(0,238,0,0.3)"></div>
<div class="b" style="left:689px;top:1373px;width:6px;height:3px;background:rgba(0,238,0,1)"></div>
<div class="b" style="left:747px;top:1376px;width:9px;height:1px;background:rgba(0,0,255,0.7)"></div>
<div class="b" style="left:756px;top:1376px;width:22px;height:1px;background:rgba(0,0,255,0.25)"></div>
<div class="b" style="left:778px;top:1376px;width:12px;height:1px;background:rgba(0,0,255,0.6)"></div>
<div class="b" style="left:819px;top:1376px;width:8px;height:1px;background:rgba(170,160,0,0.8)"></div>
<div class="b" style="left:827px;top:1376px;width:24px;height:1px;background:rgba(170,160,0,0.25)"></div>
<div class="b" style="left:851px;top:1376px;width:6px;height:1px;background:rgba(170,160,0,0.45)"></div>
<div class="b" style="left:857px;top:1376px;width:2px;height:1px;background:rgba(170,160,0,0.15)"></div>
<div class="b" style="left:890px;top:1376px;width:3px;height:1px;background:rgba(255,0,0,0.2)"></div>
<div class="b" style="left:893px;top:1376px;width:16px;height:1px;background:rgba(255,0,0,0.5)"></div>
<div class="b" style="left:909px;top:1376px;width:3px;height:1px;background:rgba(255,0,0,0.3)"></div>
<div class="b" style="left:912px;top:1376px;width:14px;height:1px;background:rgba(255,0,0,0.55)"></div>
<div class="b" style="left:926px;top:1376px;width:4px;height:1px;background:rgba(255,0,0,0.2)"></div>
<div class="t" style="left:445px;top:1402px;color:#0C0C78;"><i class=k9>M</i><i class=k2>u</i><i class=k1>l</i><i class=k4>t</i><i class=k1>i</i><i class=k6>z</i><i class=k4> </i><i class=k5>A</i><i class=k1>li</i><i class=k2>gn</i><i class=k9>m</i><i class=k2>en</i><i class=k4>t</i><i class=k6>s</i><i class=k4> </i><i class=k2>o</i><i class=k4>f </i><i class=k2>100</i><i class=k4> </i><i class=k5>V</i><i class=k2>e</i><i class=k7>r</i><i class=k4>t</i><i class=k2>eb</i><i class=k7>r</i><i class=k2>a</i><i class=k4>t</i><i class=k2>e</i><i class=k6>s</i></div>
<div class="t" style="left:121px;top:1416px;color:#E58200;"><i class=k11>G</i><i class=k2>ap</i><i class=k6>s</i></div>
<div class="t" style="left:111px;top:1431px;color:#0C0C78;"><i class=k3>H</i><i class=k2>u</i><i class=k9>m</i><i class=k2>an</i></div>
<div class="t" style="left:170.4px;width:40px;text-align:center;top:1431px;color:#0C0C78;">A</div>
<div class="t" style="left:242.39999999999998px;width:40px;text-align:center;top:1431px;color:#0C0C78;">G</div>
<div class="t" style="left:314.4px;width:40px;text-align:center;top:1431px;color:#0C0C78;">C</div>
<div class="t" style="left:386.4px;width:40px;text-align:center;top:1431px;color:#0C0C78;">C</div>
<div class="t" style="left:458.4px;width:40px;text-align:center;top:1431px;color:#0C0C78;">A</div>
<div class="t" style="left:530.4px;width:40px;text-align:center;top:1431px;color:#0C0C78;">T</div>
<div class="t" style="left:602.4px;width:40px;text-align:center;top:1431px;color:#0C0C78;">A</div>
<div class="t" style="left:674.4px;width:40px;text-align:center;top:1431px;color:#0C0C78;">T</div>
<div class="t" style="left:746.4px;width:40px;text-align:center;top:1431px;color:#0C0C78;">G</div>
<div class="t" style="left:818.4px;width:40px;text-align:center;top:1431px;color:#0C0C78;">C</div>
<div class="t" style="left:890.4px;width:40px;text-align:center;top:1431px;color:#0C0C78;">A</div>
<div class="t" style="left:108px;top:1446px;color:#0C0C78;"><i class=k3>R</i><i class=k2>he</i><i class=k6>s</i><i class=k2>u</i><i class=k6>s</i></div>
<div class="b" style="left:186px;top:1453px;width:7px;height:4px;border-top:1px solid #7070B0;border-bottom:1px solid #7070B0;box-sizing:border-box"></div>
<div class="b" style="left:258px;top:1453px;width:7px;height:4px;border-top:1px solid #7070B0;border-bottom:1px solid #7070B0;box-sizing:border-box"></div>
<div class="b" style="left:330px;top:1453px;width:7px;height:4px;border-top:1px solid #7070B0;border-bottom:1px solid #7070B0;box-sizing:border-box"></div>
<div class="b" style="left:402px;top:1453px;width:7px;height:4px;border-top:1px solid #7070B0;border-bottom:1px solid #7070B0;box-sizing:border-box"></div>
<div class="b" style="left:474px;top:1453px;width:7px;height:4px;border-top:1px solid #7070B0;border-bottom:1px solid #7070B0;box-sizing:border-box"></div>
<div class="b" style="left:546px;top:1453px;width:7px;height:4px;border-top:1px solid #7070B0;border-bottom:1px solid #7070B0;box-sizing:border-box"></div>
<div class="b" style="left:618px;top:1453px;width:7px;height:4px;border-top:1px solid #7070B0;border-bottom:1px solid #7070B0;box-sizing:border-box"></div>
<div class="b" style="left:690px;top:1453px;width:7px;height:4px;border-top:1px solid #7070B0;border-bottom:1px solid #7070B0;box-sizing:border-box"></div>
<div class="b" style="left:762px;top:1453px;width:7px;height:4px;border-top:1px solid #7070B0;border-bottom:1px solid #7070B0;box-sizing:border-box"></div>
<div class="b" style="left:834px;top:1453px;width:7px;height:4px;border-top:1px solid #7070B0;border-bottom:1px solid #7070B0;box-sizing:border-box"></div>
<div class="b" style="left:906px;top:1453px;width:7px;height:4px;border-top:1px solid #7070B0;border-bottom:1px solid #7070B0;box-sizing:border-box"></div>
<div class="t" style="left:113px;top:1461px;color:#005000;"><i class=k9>M</i><i class=k2>ou</i><i class=k6>s</i><i class=k2>e</i></div>
<div class="b" style="left:186px;top:1468px;width:7px;height:4px;border-top:1px solid #7070B0;border-bottom:1px solid #7070B0;box-sizing:border-box"></div>
<div class="b" style="left:258px;top:1468px;width:7px;height:4px;border-top:1px solid #7070B0;border-bottom:1px solid #7070B0;box-sizing:border-box"></div>
<div class="b" style="left:330px;top:1468px;width:7px;height:4px;border-top:1px solid #7070B0;border-bottom:1px solid #7070B0;box-sizing:border-box"></div>
<div class="b" style="left:402px;top:1468px;width:7px;height:4px;border-top:1px solid #7070B0;border-bottom:1px solid #7070B0;box-sizing:border-box"></div>
<div class="b" style="left:474px;top:1468px;width:7px;height:4px;border-top:1px solid #7070B0;border-bottom:1px solid #7070B0;box-sizing:border-box"></div>
<div class="b" style="left:546px;top:1468px;width:7px;height:4px;border-top:1px solid #7070B0;border-bottom:1px solid #7070B0;box-sizing:border-box"></div>
<div class="b" style="left:618px;top:1468px;width:7px;height:4px;border-top:1px solid #7070B0;border-bottom:1px solid #7070B0;box-sizing:border-box"></div>
<div class="b" style="left:690px;top:1468px;width:7px;height:4px;border-top:1px solid #7070B0;border-bottom:1px solid #7070B0;box-sizing:border-box"></div>
<div class="b" style="left:762px;top:1468px;width:7px;height:4px;border-top:1px solid #7070B0;border-bottom:1px solid #7070B0;box-sizing:border-box"></div>
<div class="b" style="left:834px;top:1468px;width:7px;height:4px;border-top:1px solid #7070B0;border-bottom:1px solid #7070B0;box-sizing:border-box"></div>
<div class="b" style="left:906px;top:1468px;width:7px;height:4px;border-top:1px solid #7070B0;border-bottom:1px solid #7070B0;box-sizing:border-box"></div>
<div class="t" style="left:129px;top:1476px;color:#0C0C78;"><i class=k3>D</i><i class=k2>og</i></div>
<div class="b" style="left:186px;top:1483px;width:7px;height:4px;border-top:1px solid #7070B0;border-bottom:1px solid #7070B0;box-sizing:border-box"></div>
<div class="b" style="left:258px;top:1483px;width:7px;height:4px;border-top:1px solid #7070B0;border-bottom:1px solid #7070B0;box-sizing:border-box"></div>
<div class="b" style="left:330px;top:1483px;width:7px;height:4px;border-top:1px solid #7070B0;border-bottom:1px solid #7070B0;box-sizing:border-box"></div>
<div class="b" style="left:402px;top:1483px;width:7px;height:4px;border-top:1px solid #7070B0;border-bottom:1px solid #7070B0;box-sizing:border-box"></div>
<div class="b" style="left:474px;top:1483px;width:7px;height:4px;border-top:1px solid #7070B0;border-bottom:1px solid #7070B0;box-sizing:border-box"></div>
<div class="b" style="left:546px;top:1483px;width:7px;height:4px;border-top:1px solid #7070B0;border-bottom:1px solid #7070B0;box-sizing:border-box"></div>
<div class="b" style="left:618px;top:1483px;width:7px;height:4px;border-top:1px solid #7070B0;border-bottom:1px solid #7070B0;box-sizing:border-box"></div>
<div class="b" style="left:690px;top:1483px;width:7px;height:4px;border-top:1px solid #7070B0;border-bottom:1px solid #7070B0;box-sizing:border-box"></div>
<div class="b" style="left:762px;top:1483px;width:7px;height:4px;border-top:1px solid #7070B0;border-bottom:1px solid #7070B0;box-sizing:border-box"></div>
<div class="b" style="left:834px;top:1483px;width:7px;height:4px;border-top:1px solid #7070B0;border-bottom:1px solid #7070B0;box-sizing:border-box"></div>
<div class="b" style="left:906px;top:1483px;width:7px;height:4px;border-top:1px solid #7070B0;border-bottom:1px solid #7070B0;box-sizing:border-box"></div>
<div class="t" style="left:101px;top:1491px;color:#005000;"><i class=k5>E</i><i class=k1>l</i><i class=k2>ephan</i><i class=k4>t</i></div>
<div class="b" style="left:186px;top:1498px;width:7px;height:4px;border-top:1px solid #7070B0;border-bottom:1px solid #7070B0;box-sizing:border-box"></div>
<div class="b" style="left:258px;top:1498px;width:7px;height:4px;border-top:1px solid #7070B0;border-bottom:1px solid #7070B0;box-sizing:border-box"></div>
<div class="b" style="left:330px;top:1498px;width:7px;height:4px;border-top:1px solid #7070B0;border-bottom:1px solid #7070B0;box-sizing:border-box"></div>
<div class="b" style="left:402px;top:1498px;width:7px;height:4px;border-top:1px solid #7070B0;border-bottom:1px solid #7070B0;box-sizing:border-box"></div>
<div class="b" style="left:474px;top:1498px;width:7px;height:4px;border-top:1px solid #7070B0;border-bottom:1px solid #7070B0;box-sizing:border-box"></div>
<div class="b" style="left:546px;top:1498px;width:7px;height:4px;border-top:1px solid #7070B0;border-bottom:1px solid #7070B0;box-sizing:border-box"></div>
<div class="b" style="left:618px;top:1498px;width:7px;height:4px;border-top:1px solid #7070B0;border-bottom:1px solid #7070B0;box-sizing:border-box"></div>
<div class="b" style="left:690px;top:1498px;width:7px;height:4px;border-top:1px solid #7070B0;border-bottom:1px solid #7070B0;box-sizing:border-box"></div>
<div class="b" style="left:762px;top:1498px;width:7px;height:4px;border-top:1px solid #7070B0;border-bottom:1px solid #7070B0;box-sizing:border-box"></div>
<div class="b" style="left:834px;top:1498px;width:7px;height:4px;border-top:1px solid #7070B0;border-bottom:1px solid #7070B0;box-sizing:border-box"></div>
<div class="b" style="left:906px;top:1498px;width:7px;height:4px;border-top:1px solid #7070B0;border-bottom:1px solid #7070B0;box-sizing:border-box"></div>
<div class="t" style="left:105px;top:1506px;color:#005000;"><i class=k3>C</i><i class=k2>h</i><i class=k1>i</i><i class=k6>ck</i><i class=k2>en</i></div>
<div class="t" style="left:84px;top:1521px;color:#0C0C78;"><i class=k5>X</i><i class=k2>_</i><i class=k4>t</i><i class=k7>r</i><i class=k2>op</i><i class=k1>i</i><i class=k6>c</i><i class=k2>a</i><i class=k1>li</i><i class=k6>s</i></div>
<div class="b" style="left:186px;top:1528px;width:7px;height:4px;border-top:1px solid #7070B0;border-bottom:1px solid #7070B0;box-sizing:border-box"></div>
<div class="b" style="left:258px;top:1528px;width:7px;height:4px;border-top:1px solid #7070B0;border-bottom:1px solid #7070B0;box-sizing:border-box"></div>
<div class="b" style="left:330px;top:1528px;width:7px;height:4px;border-top:1px solid #7070B0;border-bottom:1px solid #7070B0;box-sizing:border-box"></div>
<div class="b" style="left:402px;top:1528px;width:7px;height:4px;border-top:1px solid #7070B0;border-bottom:1px solid #7070B0;box-sizing:border-box"></div>
<div class="b" style="left:474px;top:1528px;width:7px;height:4px;border-top:1px solid #7070B0;border-bottom:1px solid #7070B0;box-sizing:border-box"></div>
<div class="b" style="left:546px;top:1528px;width:7px;height:4px;border-top:1px solid #7070B0;border-bottom:1px solid #7070B0;box-sizing:border-box"></div>
<div class="b" style="left:618px;top:1528px;width:7px;height:4px;border-top:1px solid #7070B0;border-bottom:1px solid #7070B0;box-sizing:border-box"></div>
<div class="b" style="left:690px;top:1528px;width:7px;height:4px;border-top:1px solid #7070B0;border-bottom:1px solid #7070B0;box-sizing:border-box"></div>
<div class="b" style="left:762px;top:1528px;width:7px;height:4px;border-top:1px solid #7070B0;border-bottom:1px solid #7070B0;box-sizing:border-box"></div>
<div class="b" style="left:834px;top:1528px;width:7px;height:4px;border-top:1px solid #7070B0;border-bottom:1px solid #7070B0;box-sizing:border-box"></div>
<div class="b" style="left:906px;top:1528px;width:7px;height:4px;border-top:1px solid #7070B0;border-bottom:1px solid #7070B0;box-sizing:border-box"></div>
<div class="t" style="left:98px;top:1536px;color:#005000;"><i class=k10>Z</i><i class=k2>eb</i><i class=k7>r</i><i class=k2>a</i><i class=k4>f</i><i class=k1>i</i><i class=k6>s</i><i class=k2>h</i></div>
<div class="t" style="left:441px;top:1552px;"><i class=k3>R</i><i class=k2>epea</i><i class=k4>t</i><i class=k1>i</i><i class=k2>ng</i><i class=k4> </i><i class=k5>E</i><i class=k1>l</i><i class=k2>e</i><i class=k9>m</i><i class=k2>en</i><i class=k4>t</i><i class=k6>s</i><i class=k4> </i><i class=k2>b</i><i class=k6>y</i><i class=k4> </i><i class=k3>R</i><i class=k2>epea</i><i class=k4>t</i><i class=k9>M</i><i class=k2>a</i><i class=k6>sk</i><i class=k2>e</i><i class=k7>r</i></div>
<div class="t" style="left:68px;top:1566px;"><i class=k3>R</i><i class=k2>epea</i><i class=k4>t</i><i class=k9>M</i><i class=k2>a</i><i class=k6>sk</i><i class=k2>e</i><i class=k7>r</i></div>
<div class="b" style="left:156px;top:1566px;width:288px;height:15px;background:#000"></div>
</body></html>
